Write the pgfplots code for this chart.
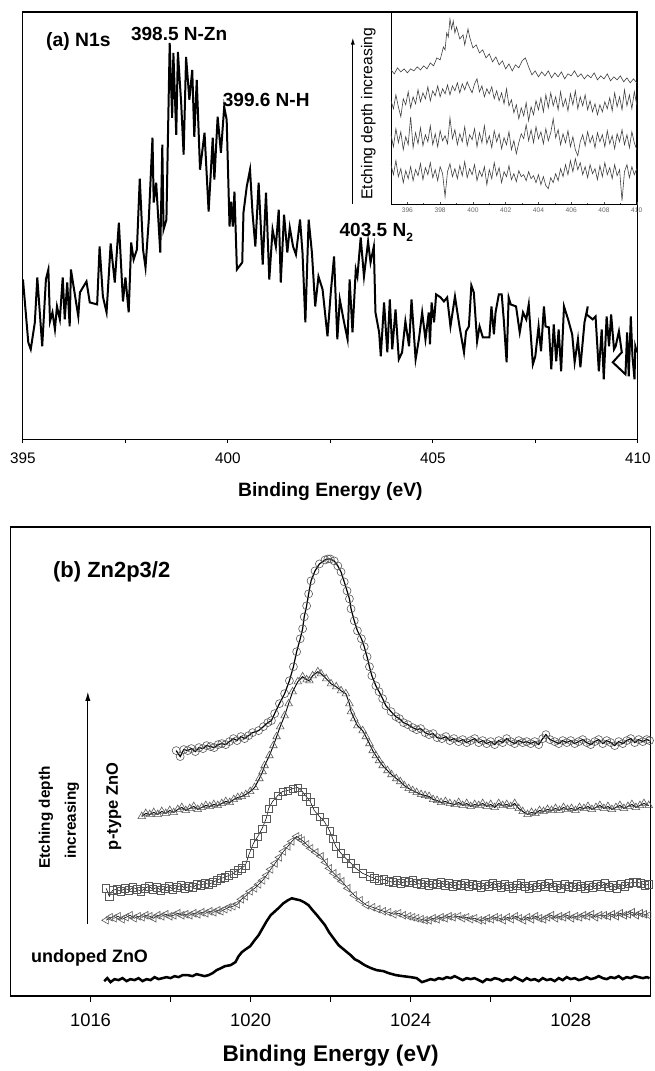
\documentclass[border=0pt]{standalone}
\usepackage{fontspec}
\setmainfont{Liberation Sans}
\usepackage{pgfplots}
\pgfplotsset{compat=1.18}
\usetikzlibrary{arrows.meta}

\newcommand{\fs}[1]{\fontsize{#1}{#1}\selectfont}

\begin{document}
\begin{tikzpicture}
\begin{scope}[x=0.75pt,y=-0.75pt]
  \path[use as bounding box] (0,0) rectangle (653,1071);
\end{scope}

% ---------- panel (a): N1s ----------
\begin{axis}[at={(17.25pt,-9pt)}, anchor=north west, scale only axis,
  width=462pt, height=321pt,
  xmin=395, xmax=410, ymin=0, ymax=428, ytick=\empty,
  xtick={395,400,405,410}, minor xtick={397.5,402.5,407.5},
  xtick pos=left, tick align=outside,
  major tick length=3pt, minor tick length=3pt,
  axis line style={line width=0.8pt}, every tick/.style={line width=0.8pt,black},
  /pgf/number format/assume math mode=true,
  /pgf/number format/1000 sep={},
  xticklabel style={font=\fs{11.5}, yshift=-4pt},
  xlabel={Binding Energy (eV)},
  every axis x label/.style={at={(axis description cs:0.5,0)}, anchor=center, yshift=-39pt, font=\bfseries\fs{14.5}}]
\addplot[black, line width=1.5pt] coordinates {
(395.00,160) (395.13,97) (395.19,90) (395.29,117) (395.35,162) (395.47,93) (395.56,160) (395.62,170)
(395.66,118) (395.72,127) (395.78,110) (395.83,133) (395.90,120) (395.97,162) (396.02,120) (396.08,157)
(396.14,113) (396.17,170) (396.35,123) (396.39,147) (396.55,158) (396.63,137) (396.81,135) (396.87,193)
(396.95,143) (397.04,127) (397.14,196) (397.24,157) (397.34,217) (397.44,138) (397.50,162) (397.58,127)
(397.64,197) (397.70,180) (397.78,190) (397.85,261) (397.93,190) (397.99,172) (398.07,220) (398.16,302)
(398.19,237) (398.25,257) (398.35,187) (398.40,295) (398.43,210) (398.50,220) (398.58,397) (398.64,322)
(398.67,387) (398.74,305) (398.78,388) (398.86,337) (398.92,285) (398.98,383) (399.06,340) (399.13,370)
(399.18,303) (399.24,360) (399.32,270) (399.43,307) (399.53,228) (399.63,302) (399.67,260) (399.75,323)
(399.83,287) (399.91,333) (399.97,320) (400.04,213) (400.08,238) (400.12,213) (400.16,248) (400.22,170)
(400.35,177) (400.38,227) (400.46,253) (400.54,270) (400.60,227) (400.67,193) (400.75,257) (400.85,175)
(400.93,247) (401.01,160) (401.09,210) (401.17,193) (401.24,230) (401.29,157) (401.37,225) (401.45,187)
(401.51,212) (401.59,193) (401.66,185) (401.76,220) (401.82,187) (401.89,117) (401.97,220) (402.05,187)
(402.13,133) (402.21,163) (402.31,150) (402.43,103) (402.51,147) (402.59,183) (402.67,100) (402.73,140)
(402.83,118) (402.92,100) (402.97,160) (403.04,107) (403.12,170) (403.16,163) (403.24,202) (403.32,163)
(403.42,198) (403.48,177) (403.56,193) (403.60,127) (403.69,107) (403.73,83) (403.81,137) (403.89,87)
(403.95,140) (404.01,90) (404.09,130) (404.17,80) (404.25,87) (404.33,118) (404.42,93) (404.48,140)
(404.58,80) (404.66,100) (404.74,127) (404.82,100) (404.90,127) (404.93,95) (404.97,137) (405.03,117)
(405.08,145) (405.19,142) (405.27,138) (405.35,142) (405.43,113) (405.54,143) (405.65,113) (405.76,87)
(405.81,108) (405.88,113) (405.94,154) (406.00,147) (406.08,98) (406.14,113) (406.22,102) (406.38,102)
(406.43,133) (406.49,105) (406.53,127) (406.61,145) (406.68,145) (406.73,120) (406.80,77) (406.85,142)
(406.90,135) (407.03,133) (407.12,107) (407.20,127) (407.28,120) (407.34,135) (407.38,110) (407.44,75)
(407.50,83) (407.58,113) (407.64,88) (407.71,133) (407.75,113) (407.83,112) (407.89,70) (407.95,115)
(408.01,78) (408.07,110) (408.13,68) (408.20,133) (408.30,120) (408.40,105) (408.46,77) (408.54,100)
(408.60,72) (408.70,117) (408.78,133) (408.75,125) (408.90,120) (408.97,123) (409.05,68) (409.12,110)
(409.17,60) (409.24,123) (409.30,93) (409.35,125) (409.42,90) (409.46,93) (409.54,108) (409.61,87)
(409.39,77) (409.70,65) (409.74,107) (409.78,63) (409.83,123) (409.87,83) (409.92,60) (409.94,93)
(409.98,87)
};
\end{axis}

% ---------- inset ----------
\begin{axis}[at={(293.8pt,-9pt)}, anchor=north west, scale only axis,
  width=184.7pt, height=144.75pt,
  axis background/.style={fill=white},
  xmin=395, xmax=410, ymin=0, ymax=193, ytick=\empty,
  xtick={396,398,...,410}, minor xtick={395,397,...,409},
  xtick pos=left, tick align=inside,
  major tick length=2pt, minor tick length=1.5pt,
  axis line style={line width=0.6pt},
  every tick/.style={line width=0.4pt,black!70},
  /pgf/number format/assume math mode=true,
  xticklabel style={font=\fs{5}, text=black!60, yshift=1pt}]
\addplot[black!75, line width=0.45pt] coordinates {
(395.0,135) (395.2,131) (395.4,137) (395.6,133) (395.8,136) (396.0,132) (396.2,136) (396.4,134)
(396.6,138) (396.8,135) (397.0,139) (397.2,136) (397.4,142) (397.6,139) (397.8,147) (398.0,145)
(398.2,158) (398.3,155) (398.4,172) (398.5,168) (398.6,186) (398.7,176) (398.8,184) (398.9,172)
(399.0,178) (399.2,166) (399.4,170) (399.5,160) (399.7,176) (399.8,168) (400.0,157) (400.2,160)
(400.4,152) (400.6,155) (400.8,147) (401.0,151) (401.2,143) (401.4,148) (401.6,140) (401.8,144)
(402.0,136) (402.2,141) (402.4,134) (402.6,140) (402.8,137) (403.0,144) (403.2,147) (403.4,138)
(403.6,130) (403.8,134) (404.0,128) (404.2,133) (404.4,129) (404.6,134) (404.8,127) (405.0,132)
(405.2,128) (405.4,133) (405.6,126) (405.8,131) (406.0,129) (406.2,134) (406.4,128) (406.6,131)
(406.8,126) (407.0,130) (407.2,127) (407.4,132) (407.6,125) (407.8,129) (408.0,126) (408.2,131)
(408.4,124) (408.6,128) (408.8,125) (409.0,129) (409.2,123) (409.4,127) (409.6,122) (409.8,126)
(410.0,122)
};
\addplot[black!75, line width=0.45pt] coordinates {
(395.0,104) (395.15,96) (395.3,110) (395.45,98) (395.6,88) (395.75,106) (395.9,100) (396.05,113)
(396.2,97) (396.35,108) (396.5,101) (396.65,115) (396.8,103) (396.95,112) (397.1,106) (397.25,118)
(397.4,104) (397.55,114) (397.7,109) (397.85,119) (398.0,108) (398.15,116) (398.3,111) (398.45,120)
(398.6,110) (398.75,119) (398.9,114) (399.05,122) (399.2,112) (399.35,121) (399.5,115) (399.65,123)
(399.8,117) (399.95,112) (400.1,121) (400.25,126) (400.4,113) (400.55,119) (400.7,108) (400.85,116)
(401.0,111) (401.15,118) (401.3,106) (401.45,114) (401.6,104) (401.75,112) (401.9,101) (402.05,116)
(402.2,99) (402.35,105) (402.5,92) (402.65,100) (402.8,86) (402.95,97) (403.1,89) (403.25,102)
(403.4,84) (403.55,98) (403.7,90) (403.85,104) (404.0,95) (404.15,107) (404.3,93) (404.45,110)
(404.6,97) (404.75,112) (404.9,99) (405.05,108) (405.2,95) (405.35,113) (405.5,98) (405.65,106)
(405.8,94) (405.95,111) (406.1,100) (406.25,114) (406.4,96) (406.55,108) (406.7,99) (406.85,110)
(407.0,95) (407.15,104) (407.3,93) (407.45,101) (407.6,90) (407.75,100) (407.9,93) (408.05,103)
(408.2,96) (408.35,107) (408.5,94) (408.65,112) (408.8,98) (408.95,108) (409.1,95) (409.25,115)
(409.4,99) (409.55,110) (409.7,96) (409.85,113) (410.0,100)
};
\addplot[black!75, line width=0.45pt] coordinates {
(395.0,70) (395.15,58) (395.3,76) (395.45,62) (395.6,73) (395.75,55) (395.9,68) (396.05,60)
(396.2,88) (396.35,57) (396.5,72) (396.65,61) (396.8,77) (396.95,59) (397.1,70) (397.25,63)
(397.4,79) (397.55,60) (397.7,71) (397.85,58) (398.0,74) (398.15,64) (398.3,69) (398.45,61)
(398.6,87) (398.75,66) (398.9,75) (399.05,60) (399.2,71) (399.35,63) (399.5,78) (399.65,59)
(399.8,70) (399.95,65) (400.1,76) (400.25,58) (400.4,72) (400.55,62) (400.7,79) (400.85,61)
(401.0,69) (401.15,57) (401.3,74) (401.45,63) (401.6,71) (401.75,56) (401.9,67) (402.05,60)
(402.2,73) (402.35,55) (402.5,64) (402.65,51) (402.8,62) (402.95,71) (403.1,66) (403.25,80)
(403.4,64) (403.55,75) (403.7,62) (403.85,78) (404.0,66) (404.15,73) (404.3,61) (404.45,76)
(404.6,64) (404.75,72) (404.9,86) (405.05,67) (405.2,75) (405.35,60) (405.5,71) (405.65,62)
(405.8,74) (405.95,58) (406.1,68) (406.25,55) (406.4,49) (406.55,63) (406.7,70) (406.85,59)
(407.0,73) (407.15,62) (407.3,69) (407.45,57) (407.6,72) (407.75,63) (407.9,70) (408.05,58)
(408.2,74) (408.35,61) (408.5,69) (408.65,56) (408.8,71) (408.95,63) (409.1,75) (409.25,60)
(409.4,70) (409.55,57) (409.7,73) (409.85,62) (410.0,55)
};
\addplot[black!75, line width=0.45pt] coordinates {
(395.0,40) (395.15,30) (395.3,44) (395.45,28) (395.6,36) (395.75,22) (395.9,34) (396.05,26)
(396.2,38) (396.35,24) (396.5,35) (396.65,29) (396.8,41) (396.95,25) (397.1,37) (397.25,30)
(397.4,42) (397.55,27) (397.7,35) (397.85,24) (398.0,38) (398.15,31) (398.3,8) (398.45,33)
(398.6,41) (398.75,28) (398.9,36) (399.05,26) (399.2,39) (399.35,29) (399.5,43) (399.65,27)
(399.8,36) (399.95,30) (400.1,40) (400.25,24) (400.4,34) (400.55,28) (400.7,38) (400.85,20)
(401.0,35) (401.15,26) (401.3,42) (401.45,29) (401.6,37) (401.75,22) (401.9,33) (402.05,28)
(402.2,39) (402.35,25) (402.5,31) (402.65,23) (402.8,34) (402.95,28) (403.1,30) (403.25,24)
(403.4,33) (403.55,26) (403.7,29) (403.85,22) (404.0,30) (404.15,20) (404.3,28) (404.45,19)
(404.6,16) (404.75,27) (404.9,22) (405.05,31) (405.2,24) (405.35,36) (405.5,28) (405.65,40)
(405.8,30) (405.95,44) (406.1,33) (406.25,46) (406.4,35) (406.55,42) (406.7,30) (406.85,38)
(407.0,27) (407.15,40) (407.3,31) (407.45,36) (407.6,25) (407.75,39) (407.9,28) (408.05,42)
(408.2,30) (408.35,37) (408.5,26) (408.65,40) (408.8,29) (408.95,35) (409.1,4) (409.25,33)
(409.4,40) (409.55,27) (409.7,38) (409.85,30) (410.0,36)
};
\end{axis}

% ---------- panel (b): Zn2p3/2 ----------
\begin{axis}[at={(7.9pt,-396pt)}, anchor=north west, scale only axis,
  width=481.1pt, height=352.5pt,
  xmin=1014, xmax=1030, ymin=4, ymax=474, ytick=\empty,
  xtick={1016,1020,1024,1028}, minor xtick={1018,1022,1026},
  xtick pos=left, tick align=outside,
  major tick length=4.5pt, minor tick length=4.5pt,
  axis line style={line width=1.1pt}, every tick/.style={line width=1pt,black},
  /pgf/number format/assume math mode=true,
  /pgf/number format/1000 sep={},
  xticklabel style={font=\fs{13.8}, yshift=-5pt},
  xlabel={Binding Energy (eV)},
  every axis x label/.style={at={(axis description cs:0.5,0)}, anchor=center, yshift=-45pt, font=\bfseries\fs{17}}]
% circles
\addplot[black, line width=0.9pt, mark=o, mark size=3pt,
  mark options={draw=black!65, fill=white, line width=0.45pt, solid}] coordinates {
(1018.14,250) (1018.24,244) (1018.33,251) (1018.43,250) (1018.52,252) (1018.62,249) (1018.71,253) (1018.81,252)
(1018.90,255) (1019.00,254) (1019.09,253) (1019.19,256) (1019.28,257) (1019.38,256) (1019.47,259) (1019.57,262)
(1019.66,260) (1019.76,264) (1019.85,262) (1019.95,265) (1020.05,268) (1020.20,270) (1020.32,274) (1020.43,278)
(1020.52,280) (1020.60,287) (1020.72,297) (1020.85,307) (1020.97,320) (1021.07,334) (1021.15,349) (1021.24,362)
(1021.30,372) (1021.34,384) (1021.40,395) (1021.45,407) (1021.51,420) (1021.61,430) (1021.72,437) (1021.86,441)
(1021.93,442) (1021.99,442) (1022.09,440) (1022.18,435) (1022.26,429) (1022.34,419) (1022.41,410) (1022.47,402)
(1022.51,392) (1022.59,380) (1022.67,370) (1022.77,362) (1022.84,354) (1022.91,344) (1022.97,334) (1023.03,325)
(1023.13,315) (1023.21,309) (1023.30,302) (1023.38,295) (1023.51,289) (1023.63,284) (1023.72,282) (1023.82,278)
(1023.93,276) (1024.05,273) (1024.15,271) (1024.25,272) (1024.36,268) (1024.46,266) (1024.56,267) (1024.66,263)
(1024.78,262) (1024.88,264) (1024.98,260) (1025.08,262) (1025.20,259) (1025.30,261) (1025.40,258) (1025.50,260)
(1025.60,262) (1025.70,258) (1025.80,260) (1025.90,257) (1026.00,259) (1026.10,256) (1026.20,260) (1026.30,258)
(1026.40,262) (1026.50,259) (1026.60,257) (1026.70,260) (1026.80,258) (1026.90,259) (1027.00,257) (1027.10,259)
(1027.20,256) (1027.30,262) (1027.38,266) (1027.48,261) (1027.60,259) (1027.70,257) (1027.80,260) (1027.90,258)
(1028.00,260) (1028.10,257) (1028.20,259) (1028.30,261) (1028.40,258) (1028.50,256) (1028.60,259) (1028.70,261)
(1028.80,257) (1028.90,260) (1029.00,258) (1029.10,255) (1029.20,259) (1029.30,257) (1029.40,260) (1029.50,262)
(1029.60,258) (1029.70,261) (1029.80,259) (1029.90,261) (1029.97,260)
};
% up triangles
\addplot[black, line width=0.7pt, mark=triangle, mark size=3.3pt,
  mark options={draw=black!65, fill=white, line width=0.45pt, solid}] coordinates {
(1017.28,184) (1017.38,187) (1017.48,186) (1017.58,188) (1017.68,186) (1017.78,189) (1017.88,187) (1017.98,190)
(1018.08,188) (1018.18,191) (1018.28,193) (1018.38,190) (1018.48,192) (1018.58,194) (1018.68,191) (1018.78,193)
(1018.88,195) (1018.98,194) (1019.08,196) (1019.18,195) (1019.28,197) (1019.38,199) (1019.48,198) (1019.58,201)
(1019.68,203) (1019.78,204) (1019.88,206) (1019.99,209) (1020.10,213) (1020.22,222) (1020.30,229) (1020.35,235)
(1020.47,245) (1020.57,255) (1020.65,264) (1020.74,274) (1020.85,285) (1020.95,297) (1021.05,309) (1021.18,319)
(1021.30,324) (1021.40,321) (1021.47,320) (1021.55,325) (1021.68,329) (1021.76,327) (1021.89,322) (1022.01,317)
(1022.14,314) (1022.26,310) (1022.38,307) (1022.47,297) (1022.51,289) (1022.59,282) (1022.67,275) (1022.80,270)
(1022.88,264) (1022.97,257) (1023.05,250) (1023.13,245) (1023.21,240) (1023.30,235) (1023.42,230) (1023.52,226)
(1023.64,222) (1023.74,219) (1023.84,215) (1023.95,212) (1024.05,210) (1024.15,208) (1024.26,206) (1024.36,205)
(1024.46,204) (1024.56,201) (1024.66,200) (1024.76,198) (1024.87,199) (1024.98,197) (1025.10,196) (1025.20,198)
(1025.30,195) (1025.40,197) (1025.50,194) (1025.60,196) (1025.70,195) (1025.80,197) (1025.90,194) (1026.00,196)
(1026.10,193) (1026.20,197) (1026.30,195) (1026.40,196) (1026.50,194) (1026.60,197) (1026.70,192) (1026.80,189)
(1026.92,186) (1027.02,188) (1027.12,187) (1027.22,190) (1027.32,189) (1027.42,191) (1027.52,190) (1027.62,192)
(1027.72,190) (1027.82,193) (1027.92,191) (1028.02,192) (1028.12,190) (1028.22,193) (1028.33,192) (1028.43,194)
(1028.53,191) (1028.63,193) (1028.73,195) (1028.83,192) (1028.93,194) (1029.03,191) (1029.13,193) (1029.23,195)
(1029.33,192) (1029.43,194) (1029.53,196) (1029.63,193) (1029.73,195) (1029.83,197) (1029.95,195)
};
% squares
\addplot[black, line width=0.4pt, mark=square, mark size=2.7pt,
  mark options={draw=black!65, fill=white, line width=0.45pt, solid}] coordinates {
(1016.39,112) (1016.47,104) (1016.55,110) (1016.65,111) (1016.75,109) (1016.86,112) (1016.96,110) (1017.06,113)
(1017.16,111) (1017.26,109) (1017.36,112) (1017.46,114) (1017.56,111) (1017.66,113) (1017.76,110) (1017.86,112)
(1017.96,114) (1018.06,111) (1018.16,113) (1018.26,115) (1018.36,112) (1018.46,114) (1018.56,113) (1018.66,116)
(1018.76,115) (1018.86,117) (1018.96,116) (1019.06,118) (1019.15,120) (1019.26,122) (1019.36,123) (1019.46,125)
(1019.57,127) (1019.67,130) (1019.77,132) (1019.87,135) (1019.97,147) (1020.07,157) (1020.18,164) (1020.29,172)
(1020.39,182) (1020.45,192) (1020.55,199) (1020.68,205) (1020.80,209) (1020.93,210) (1021.05,212) (1021.18,213)
(1021.29,209) (1021.39,204) (1021.49,199) (1021.59,190) (1021.72,184) (1021.84,179) (1021.97,170) (1022.05,162)
(1022.13,154) (1022.26,147) (1022.38,142) (1022.51,137) (1022.63,132) (1022.80,127) (1022.97,124) (1023.09,122)
(1023.21,120) (1023.33,121) (1023.46,119) (1023.56,118) (1023.66,120) (1023.76,117) (1023.86,119) (1023.96,118)
(1024.06,120) (1024.16,117) (1024.26,116) (1024.36,118) (1024.46,115) (1024.56,117) (1024.66,116) (1024.76,118)
(1024.86,115) (1024.96,117) (1025.06,114) (1025.16,116) (1025.26,115) (1025.36,117) (1025.46,114) (1025.56,116)
(1025.66,115) (1025.76,113) (1025.86,116) (1025.96,114) (1026.06,117) (1026.16,115) (1026.26,113) (1026.36,116)
(1026.46,114) (1026.56,112) (1026.66,115) (1026.76,117) (1026.86,114) (1026.96,112) (1027.06,115) (1027.16,113)
(1027.26,116) (1027.36,114) (1027.46,117) (1027.56,113) (1027.66,115) (1027.76,112) (1027.86,116) (1027.96,114)
(1028.06,113) (1028.16,116) (1028.26,114) (1028.36,112) (1028.46,115) (1028.56,113) (1028.66,116) (1028.76,114)
(1028.86,117) (1028.96,113) (1029.06,115) (1029.16,112) (1029.26,116) (1029.36,114) (1029.46,117) (1029.56,118)
(1029.66,118) (1029.76,117) (1029.86,115) (1029.95,116)
};
% left triangles
\addplot[black, line width=0.4pt, mark=triangle, mark size=3.3pt,
  mark options={draw=black!65, fill=white, line width=0.45pt, solid, rotate=90}] coordinates {
(1016.39,80) (1016.49,83) (1016.59,82) (1016.69,84) (1016.79,81) (1016.89,83) (1016.99,85) (1017.09,82)
(1017.19,84) (1017.29,83) (1017.38,85) (1017.48,84) (1017.58,82) (1017.68,85) (1017.78,84) (1017.88,86)
(1017.98,84) (1018.08,85) (1018.18,87) (1018.28,85) (1018.38,86) (1018.48,85) (1018.58,87) (1018.68,86)
(1018.78,88) (1018.88,87) (1018.98,89) (1019.08,88) (1019.18,90) (1019.26,89) (1019.36,91) (1019.46,93)
(1019.56,94) (1019.67,96) (1019.77,101) (1019.87,104) (1019.99,109) (1020.10,112) (1020.20,116) (1020.30,120)
(1020.40,125) (1020.50,131) (1020.61,137) (1020.72,143) (1020.82,149) (1020.93,154) (1021.03,159) (1021.15,164)
(1021.22,162) (1021.29,160) (1021.40,156) (1021.50,152) (1021.63,148) (1021.76,144) (1021.87,138) (1021.97,132)
(1022.08,127) (1022.18,123) (1022.28,119) (1022.43,112) (1022.59,105) (1022.74,100) (1022.90,95) (1023.05,93)
(1023.18,91) (1023.32,89) (1023.45,88) (1023.58,86) (1023.70,87) (1023.82,85) (1023.95,84) (1024.05,83)
(1024.15,82) (1024.26,81) (1024.36,80) (1024.46,80) (1024.56,82) (1024.66,81) (1024.76,83) (1024.86,82)
(1024.96,84) (1025.06,83) (1025.20,84) (1025.30,82) (1025.40,83) (1025.50,81) (1025.60,82) (1025.72,80)
(1025.82,80) (1025.92,82) (1026.02,81) (1026.12,83) (1026.22,82) (1026.32,80) (1026.42,83) (1026.52,81)
(1026.62,84) (1026.72,82) (1026.82,80) (1026.92,83) (1027.02,81) (1027.12,84) (1027.22,82) (1027.32,81)
(1027.42,83) (1027.52,85) (1027.62,82) (1027.72,84) (1027.82,83) (1027.92,85) (1028.02,82) (1028.12,84)
(1028.22,83) (1028.32,85) (1028.42,84) (1028.52,86) (1028.62,83) (1028.72,85) (1028.84,85) (1028.94,84)
(1029.04,86) (1029.14,84) (1029.24,87) (1029.34,85) (1029.44,86) (1029.54,88) (1029.64,85) (1029.74,87)
(1029.84,86) (1029.95,85)
};
% undoped ZnO
\addplot[black, line width=1.9pt] coordinates {
(1016.34,19) (1016.42,22) (1016.50,18) (1016.60,21) (1016.70,20) (1016.80,22) (1016.90,19) (1017.00,21)
(1017.10,20) (1017.20,22) (1017.30,19) (1017.40,21) (1017.50,20) (1017.60,23) (1017.70,21) (1017.80,22)
(1017.90,23) (1018.00,22) (1018.10,24) (1018.20,23) (1018.30,25) (1018.43,25) (1018.55,24) (1018.65,26)
(1018.75,25) (1018.85,24) (1018.95,25) (1019.05,27) (1019.15,30) (1019.26,32) (1019.36,34) (1019.50,35)
(1019.62,38) (1019.70,44) (1019.78,48) (1019.88,51) (1019.99,54) (1020.10,60) (1020.20,65) (1020.30,72)
(1020.40,79) (1020.50,85) (1020.61,89) (1020.72,93) (1020.82,97) (1020.93,100) (1021.03,102) (1021.13,101)
(1021.24,100) (1021.34,98) (1021.45,95) (1021.55,90) (1021.66,85) (1021.76,80) (1021.86,75) (1021.96,68)
(1022.07,62) (1022.20,55) (1022.38,49) (1022.50,45) (1022.60,41) (1022.70,39) (1022.85,35) (1023.01,32)
(1023.15,30) (1023.32,29) (1023.45,27) (1023.63,25) (1023.80,24) (1024.00,23) (1024.15,22) (1024.28,18)
(1024.36,19) (1024.50,21) (1024.60,20) (1024.70,22) (1024.80,21) (1024.90,23) (1025.00,22) (1025.10,24)
(1025.20,22) (1025.30,20) (1025.40,22) (1025.50,21) (1025.60,22) (1025.70,20) (1025.80,18) (1025.90,21)
(1026.00,20) (1026.10,22) (1026.20,21) (1026.30,19) (1026.40,21) (1026.50,20) (1026.60,23) (1026.70,21)
(1026.80,19) (1026.90,22) (1027.00,20) (1027.10,21) (1027.20,19) (1027.30,22) (1027.40,20) (1027.50,21)
(1027.60,19) (1027.70,22) (1027.80,20) (1027.90,23) (1028.00,21) (1028.10,22) (1028.20,20) (1028.30,21)
(1028.40,23) (1028.50,21) (1028.60,22) (1028.70,24) (1028.80,22) (1028.90,21) (1029.00,23) (1029.10,22)
(1029.20,24) (1029.30,21) (1029.40,23) (1029.50,22) (1029.60,24) (1029.70,23) (1029.80,22) (1029.90,23)
(1029.97,22)
};
\end{axis}

% ---------- annotations (pixel grid of the reference) ----------
\begin{scope}[x=0.75pt,y=-0.75pt, every node/.style={inner sep=0pt}]
  \node[anchor=west, font=\bfseries\fs{14.5}] at (46,42) {(a) N1s};
  \node[anchor=west, font=\bfseries\fs{14.3}] at (131,34) {398.5 N-Zn};
  \node[anchor=west, font=\bfseries\fs{14.3}] at (223,100) {399.6 N-H};
  \node[anchor=west, font=\bfseries\fs{14.3}] at (340,233) {403.5 N\raisebox{-0.45ex}{\fs{9}2}};
  \draw[-{Latex[length=5pt,width=3pt]}, line width=0.6pt] (353.5,204) -- (353.5,38);
  \node[rotate=90, font=\fs{11.8}] at (369,114) {Etching depth increasing};

  \node[anchor=west, font=\bfseries\fs{16.5}] at (53,573) {(b) Zn2p3/2};
  \draw[-{Latex[length=7pt,width=4pt]}, line width=0.8pt] (88,926) -- (88,693);
  \node[rotate=90, font=\bfseries\fs{11.5}] at (46,819) {Etching depth};
  \node[rotate=90, font=\bfseries\fs{11.5}] at (72,822) {increasing};
  \node[rotate=90, font=\bfseries\fs{12.4}] at (114,808) {p-type ZnO};
  \node[anchor=west, font=\bfseries\fs{13.5}] at (31,960) {undoped ZnO};
\end{scope}
\end{tikzpicture}
\end{document}
